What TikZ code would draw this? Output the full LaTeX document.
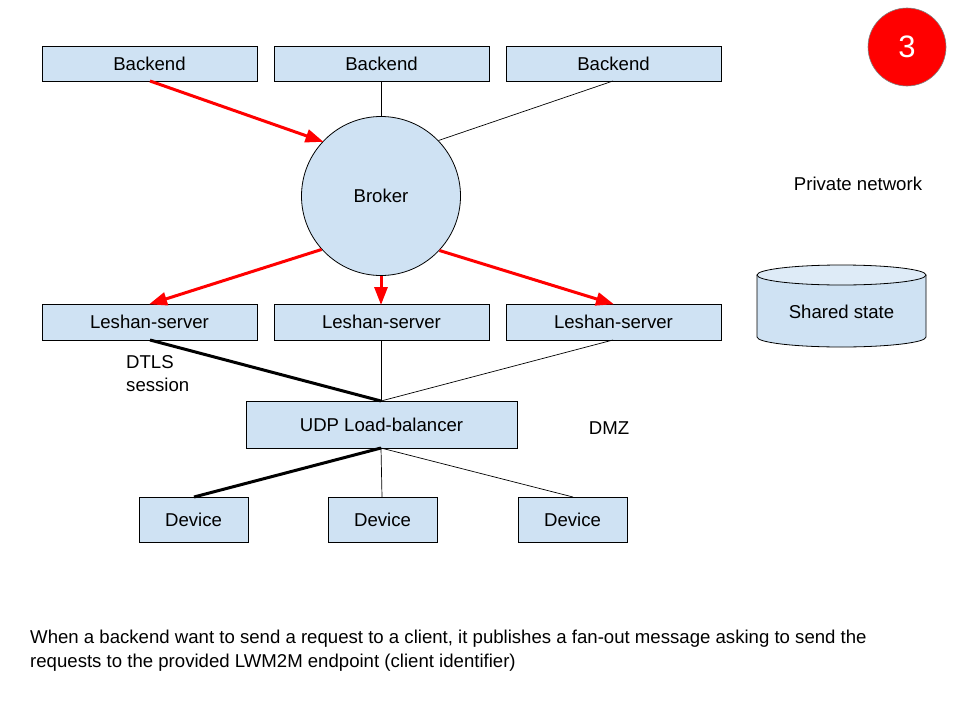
\documentclass[tikz,border=0pt]{standalone}
\usepackage{fontspec}
\setmainfont{Liberation Sans}
\usetikzlibrary{arrows.meta}
\definecolor{boxblue}{HTML}{CFE2F3}
\definecolor{boxtop}{HTML}{DEEBF7}
\definecolor{redline}{HTML}{FF0000}
\begin{document}
\begin{tikzpicture}[x=1pt,y=-1pt,
  box/.style={draw=black,fill=boxblue,line width=0.8pt,inner sep=0pt,font=\fontsize{18.6}{22}\selectfont},
  lbl/.style={inner sep=0pt,font=\fontsize{18.6}{22}\selectfont},
  redarrow/.style={draw=redline,line width=3pt,-{Triangle[length=18pt,width=13pt]},shorten >=-1pt},
  thin/.style={draw=black,line width=0.7pt},
  thick/.style={draw=black,line width=3pt}]
\useasboundingbox (0,0) rectangle (960,720);
% backends
\node[box,minimum width=215pt,minimum height=35pt] (b1) at (149.5,63.5) {Backend};
\node[box,minimum width=215pt,minimum height=35pt] (b2) at (381.5,63.5) {Backend};
\node[box,minimum width=215pt,minimum height=35pt] (b3) at (613.5,63.5) {Backend};
% broker
\node[box,circle,minimum size=159pt] (br) at (381,196) {Broker};
% leshan
\node[box,minimum width=215pt,minimum height=36pt] (l1) at (149.5,322) {Leshan-server};
\node[box,minimum width=215pt,minimum height=36pt] (l2) at (381.5,322) {Leshan-server};
\node[box,minimum width=215pt,minimum height=36pt] (l3) at (613.5,322) {Leshan-server};
% LB
\node[box,minimum width=271pt,minimum height=47pt] (lb) at (381.5,424.5) {UDP Load-balancer};
% devices
\node[box,minimum width=109pt,minimum height=45pt] (d1) at (193.5,519.5) {Device};
\node[box,minimum width=109pt,minimum height=45pt] (d2) at (382.5,519.5) {Device};
\node[box,minimum width=109pt,minimum height=45pt] (d3) at (572.5,519.5) {Device};
% shared state cylinder
\fill[boxblue] (757,275) -- (757,337) arc[start angle=180,end angle=360,x radius=84.5,y radius=-10] -- (926,275) -- cycle;
\draw[line width=0.8pt] (757,275) -- (757,337) arc[start angle=180,end angle=360,x radius=84.5,y radius=-10] -- (926,275);
\draw[line width=0.8pt,fill=boxtop] (841.5,275) ellipse[x radius=84.5,y radius=10];
\node[lbl] (ss) at (841.5,312) {Shared state};
% labels
\node[lbl] (pn) at (858,184) {Private network};
\node[lbl] (dmz) at (609,428) {DMZ};
\node[lbl,anchor=west,align=left,font=\fontsize{18.6}{23}\selectfont] (dtls) at (126,373.5) {DTLS\\session};
% red circle
\node[circle,draw=gray,fill=redline,minimum size=78pt,inner sep=0pt,text=white,font=\fontsize{31}{34}\selectfont,line width=0.6pt] (num) at (907,47) {3};
% bottom text
\node[lbl,anchor=base west,align=left,font=\fontsize{18.6}{24}\selectfont] (desc) at (30,667.5) {When a backend want to send a request to a client, it publishes a fan-out message asking to send the\\requests to the provided LWM2M endpoint (client identifier)};
% connectors
\coordinate (b1s) at (150,81);
\coordinate (b2s) at (381,81);
\coordinate (b3s) at (613,81);
\draw[redarrow] (b1s) -- (br.137);
\draw[thin] (b2s) -- (br.north);
\draw[thin] (b3s) -- (br.44);
\coordinate (l1t) at (150,304);
\coordinate (l2t) at (381,304);
\coordinate (l3t) at (613,304);
\draw[redarrow] (br.222) -- (l1t);
\draw[redarrow] (br.south) -- (l2t);
\draw[redarrow] (br.317) -- (l3t);
\coordinate (l1b) at (150,340);
\coordinate (l2b) at (381,340);
\coordinate (l3b) at (613,340);
\coordinate (lbt) at (381,401);
\coordinate (lbb) at (381,448);
\draw[thick] (l1b) -- (lbt);
\draw[thin] (l2b) -- (lbt);
\draw[thin] (l3b) -- (lbt);
\coordinate (d1t) at (194,497);
\coordinate (d2t) at (382,497);
\coordinate (d3t) at (573,497);
\draw[thick] (lbb) -- (d1t);
\draw[thin] (lbb) -- (d2t);
\draw[thin] (lbb) -- (d3t);
\end{tikzpicture}
\end{document}
